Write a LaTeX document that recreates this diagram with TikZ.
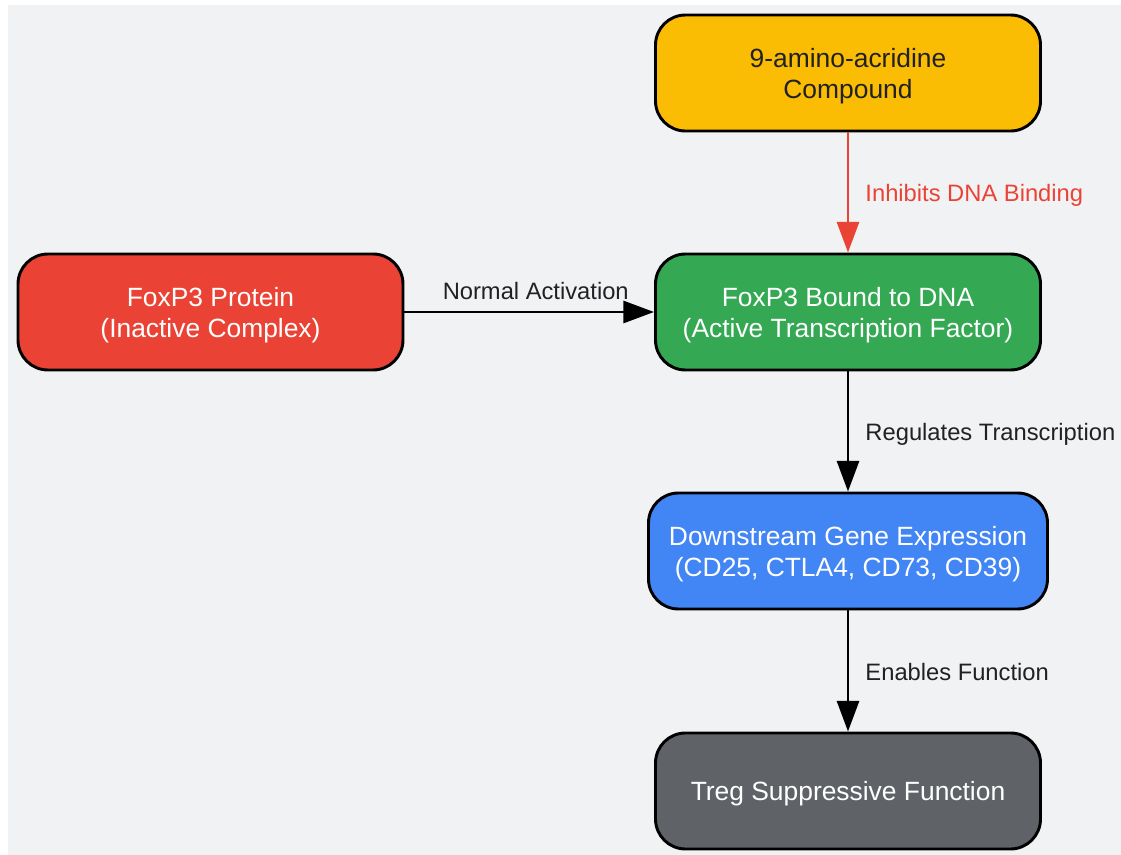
\documentclass[tikz,border=0pt]{standalone}
\usepackage{fontspec}
\setmainfont{Liberation Sans}
\usetikzlibrary{arrows.meta}
\definecolor{bgc}{HTML}{F1F2F4}
\definecolor{cyel}{HTML}{FBBC04}
\definecolor{cred}{HTML}{EA4335}
\definecolor{cgrn}{HTML}{34A853}
\definecolor{cblu}{HTML}{4285F4}
\definecolor{cgry}{HTML}{5F6368}
\definecolor{ctxt}{HTML}{202124}
\tikzset{
  box/.style={draw=black, line width=2.2pt, rounded corners=22.5pt,
    minimum width=288.75pt, minimum height=87pt, align=center, text depth=0pt,
    text=white, font=\fontsize{19.8pt}{23.3pt}\selectfont},
  wide/.style={minimum width=299.25pt},
  conn/.style={line width=2.2pt, draw=black, -{Triangle[width=16.5pt,length=23pt]}},
  redconn/.style={conn, draw=cred, -{Triangle[width=16.5pt,length=23pt,fill=cred]}},
  lbl/.style={inner sep=0pt, text=ctxt, font=\fontsize{17.8pt}{21pt}\selectfont},
  side/.style={lbl, anchor=base west, xshift=12pt, yshift=-6.75pt},
}
\begin{document}
\begin{tikzpicture}[x=0.75pt,y=-0.75pt]
\useasboundingbox (0,0) rectangle (1121,855);
\fill[white] (0,0) rectangle (1121,855);
\fill[bgc] (8,5) rectangle (1121,855);
\node[box, fill=cyel, text=ctxt] (yel) at (848,73) {9-amino-acridine\\Compound};
\node[box, fill=cred] (red) at (210.5,312) {FoxP3 Protein\\(Inactive Complex)};
\node[box, fill=cgrn] (grn) at (848,312) {FoxP3 Bound to DNA\\(Active Transcription Factor)};
\node[box, wide, fill=cblu] (blu) at (848,551) {Downstream Gene Expression\\(CD25, CTLA4, CD73, CD39)};
\node[box, fill=cgry] (gry) at (848,791) {Treg Suppressive Function};
\draw[redconn] (yel) -- node[side, text=cred] {Inhibits DNA Binding} (grn);
\draw[conn] (red) -- node[lbl, anchor=south, pos=0.526, yshift=8.25pt] {Normal Activation} (grn);
\draw[conn] (grn) -- node[side] {Regulates Transcription} (blu);
\draw[conn] (blu) -- node[side] {Enables Function} (gry);
\end{tikzpicture}
\end{document}
